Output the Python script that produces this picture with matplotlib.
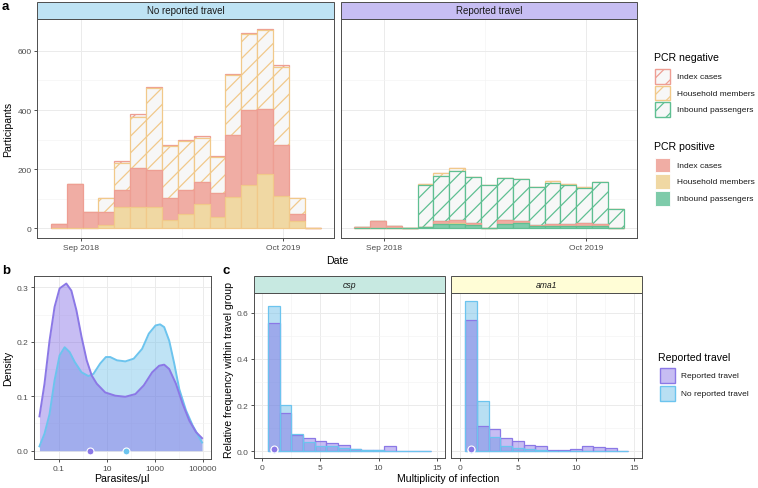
import numpy as np
import pandas as pd
import matplotlib
matplotlib.use('Agg')
import matplotlib.pyplot as plt
import matplotlib.dates as mdates
from matplotlib.patches import Rectangle
from matplotlib.ticker import FixedLocator, NullFormatter

plt.rcParams['font.family'] = ['Liberation Sans', 'DejaVu Sans']
plt.rcParams['hatch.linewidth'] = 0.9

W, H = 758, 489

# ---------------- panel a: participants per 31-day bin ----------------
bin_start = pd.date_range('2018-07-04', periods=17, freq='31D')

# no reported travel
nt_hh_pos = [0, 0, 0, 11, 73, 73, 73, 29, 48, 82, 40, 107, 148, 185, 109, 25, 0]
nt_idx_pos = [13, 151, 56, 45, 57, 131, 125, 75, 82, 76, 81, 207, 252, 219, 174, 23, 0]
nt_hh_neg = [0, 0, 0, 45, 92, 172, 275, 173, 165, 149, 120, 206, 256, 268, 263, 56, 0]
nt_idx_neg = [0, 0, 0, 0, 6, 10, 6, 6, 2, 6, 2, 1, 3, 2, 5, 0, 0]

# reported travel
tr_inb_pos = [0, 0, 0, 0, 4, 13, 13, 11, 2, 13, 17, 7, 9, 9, 9, 9, 2]
tr_hh_pos = [0, 0, 0, 0, 0, 0, 6, 0, 0, 0, 0, 0, 0, 0, 0, 0, 0]
tr_idx_pos = [3, 25, 7, 2, 0, 12, 9, 7, 0, 14, 9, 4, 7, 6, 8, 7, 0]
tr_inb_neg = [0, 0, 0, 0, 142, 152, 165, 154, 144, 143, 141, 128, 138, 133, 120, 142, 65]
tr_hh_neg = [0, 0, 0, 0, 3, 11, 10, 3, 2, 0, 0, 2, 6, 2, 3, 0, 0]
tr_idx_neg = [0, 0, 0, 0, 0, 0, 0, 0, 0, 0, 0, 0, 0, 0, 0, 0, 0]

# ---------------- panel b: parasite density ----------------
log_par_tr = [-1.80, -1.59, -1.38, -1.17, -0.96, -0.68, -0.47, -0.26, -0.045, 0.17, 0.38,
              0.59, 0.94, 1.36, 1.78, 2.20, 2.55, 2.90, 3.19, 3.40, 3.61, 3.89, 4.17,
              4.45, 4.73, 4.98]
dens_tr = [0.063, 0.123, 0.202, 0.264, 0.298, 0.307, 0.294, 0.258, 0.209, 0.166, 0.138,
           0.123, 0.107, 0.101, 0.099, 0.104, 0.120, 0.144, 0.156, 0.158, 0.150, 0.123,
           0.086, 0.055, 0.034, 0.023]
log_par_nt = [-1.80, -1.59, -1.38, -1.17, -0.96, -0.75, -0.54, -0.33, -0.045, 0.24, 0.45,
              0.73, 0.97, 1.15, 1.43, 1.78, 2.13, 2.48, 2.76, 3.04, 3.23, 3.40, 3.61,
              3.82, 4.03, 4.31, 4.59, 4.98]
dens_nt = [0.008, 0.031, 0.067, 0.129, 0.175, 0.190, 0.181, 0.163, 0.144, 0.137, 0.141,
           0.160, 0.172, 0.172, 0.166, 0.164, 0.169, 0.187, 0.215, 0.230, 0.232, 0.227,
           0.202, 0.160, 0.113, 0.074, 0.046, 0.015]
median_par = {'tr': 2.1, 'nt': 62}

# ---------------- panel c: multiplicity of infection ----------------
moi = [1, 2, 3, 4, 5, 6, 7, 8, 9, 10, 11, 12, 13, 14]
csp_tr = [0.555, 0.166, 0.072, 0.056, 0.046, 0.035, 0.029, 0.012, 0.006, 0.006, 0.022, 0, 0, 0]
csp_nt = [0.631, 0.199, 0.075, 0.042, 0.022, 0.025, 0.014, 0.009, 0.005, 0.005, 0.003, 0.002, 0.002, 0.002]
ama_tr = [0.568, 0.111, 0.095, 0.056, 0.043, 0.027, 0.022, 0.006, 0.006, 0.010, 0.022, 0.017, 0.013, 0]
ama_nt = [0.649, 0.219, 0.060, 0.025, 0.014, 0.010, 0.006, 0.003, 0.003, 0.003, 0.003, 0.002, 0.002, 0.002]
median_moi = 1

# colours
fill = {'idx': '#F0ADA4', 'hh': '#F0D8A3', 'inb': '#7ECBAA'}
edge = {'idx': '#EE9E93', 'hh': '#F1C98A', 'inb': '#5FBF92'}
hatch_bg = '#F7F7F7'
pur, pur_e = '#755CE1', '#8B78E6'
blu, blu_e = '#73C1E9', '#6CC4EE'

fig = plt.figure(figsize=(W / 100, H / 100), dpi=100)


def px_axes(x0, y0, x1, y1):
    return fig.add_axes([x0 / W, 1 - y1 / H, (x1 - x0) / W, (y1 - y0) / H])


def style(ax):
    for s in ax.spines.values():
        s.set_color('#4d4d4d')
        s.set_linewidth(0.7)
    ax.grid(True, which='major', color='#EBEBEB', lw=0.7)
    ax.grid(True, which='minor', color='#F3F3F3', lw=0.45)
    ax.set_axisbelow(True)
    ax.tick_params(which='major', length=2.5, width=0.6, color='#333333',
                   labelsize=6, labelcolor='#4D4D4D', pad=1.5)
    ax.tick_params(which='minor', length=0)


x_bins = mdates.date2num(bin_start.to_pydatetime())
sep18 = mdates.date2num(pd.Timestamp('2018-09-01').to_pydatetime())
oct19 = mdates.date2num(pd.Timestamp('2019-10-01').to_pydatetime())


def stacked(ax, layers):
    # layers bottom -> top; ggplot draws the top of the stack first
    base = np.zeros(len(x_bins))
    bottoms = []
    for counts, kind, neg in layers:
        bottoms.append(base.copy())
        base = base + np.array(counts)
    for (counts, kind, neg), b in reversed(list(zip(layers, bottoms))):
        if neg:
            ax.bar(x_bins, counts, bottom=b, width=31, align='edge', facecolor=hatch_bg,
                   edgecolor=edge[kind], hatch='//', lw=0.9)
        else:
            ax.bar(x_bins, counts, bottom=b, width=31, align='edge', facecolor=fill[kind],
                   edgecolor=edge[kind], lw=0.9)
    ax.set_xlim(sep18 - 85.4, sep18 + 494.4)
    ax.set_ylim(-33.7, 707.7)
    ax.set_xticks([sep18, oct19])
    ax.set_xticklabels(['Sep 2018', 'Oct 2019'])
    ax.xaxis.set_minor_locator(FixedLocator([(sep18 + oct19) / 2]))
    ax.set_yticks([0, 200, 400, 600])
    ax.yaxis.set_minor_locator(FixedLocator([100, 300, 500]))
    style(ax)


axL = px_axes(37.3, 20, 334.3, 239.3)
stacked(axL, [(nt_hh_pos, 'hh', False), (nt_idx_pos, 'idx', False),
              (nt_hh_neg, 'hh', True), (nt_idx_neg, 'idx', True)])
axR = px_axes(340.7, 20, 637.3, 239.3)
stacked(axR, [(tr_inb_pos, 'inb', False), (tr_hh_pos, 'hh', False), (tr_idx_pos, 'idx', False),
              (tr_inb_neg, 'inb', True), (tr_hh_neg, 'hh', True), (tr_idx_neg, 'idx', True)])
axR.tick_params(axis='y', which='both', length=0, labelleft=False)

# panel b
axB = px_axes(33.7, 277.3, 210.7, 460)
xs_nt = 10 ** np.array(log_par_nt)
xs_tr = 10 ** np.array(log_par_tr)
axB.fill_between(xs_nt, dens_nt, color=blu, alpha=0.45, lw=0)
axB.plot(xs_nt, dens_nt, color=blu_e, lw=1.4)
axB.fill_between(xs_tr, dens_tr, color=pur, alpha=0.4, lw=0)
axB.plot(xs_tr, dens_tr, color=pur_e, lw=1.4)
axB.plot([median_par['tr']], [0], 'o', ms=5, mfc=pur_e, mec='white', mew=0.8)
axB.plot([median_par['nt']], [0], 'o', ms=5, mfc=blu_e, mec='white', mew=0.8)
axB.set_xscale('log')
axB.set_xlim(10 ** -2.04, 10 ** 5.34)
axB.set_ylim(-0.0153, 0.3203)
axB.xaxis.set_major_locator(FixedLocator([0.1, 10, 1000, 100000]))
axB.set_xticklabels(['0.1', '10', '1000', '100000'])
axB.xaxis.set_minor_locator(FixedLocator([1, 100, 10000]))
axB.xaxis.set_minor_formatter(NullFormatter())
axB.set_yticks([0, 0.1, 0.2, 0.3])
axB.set_yticklabels(['0.0', '0.1', '0.2', '0.3'])
axB.yaxis.set_minor_locator(FixedLocator([0.05, 0.15, 0.25]))
style(axB)


def moi_panel(ax, tr, nt):
    ax.bar(moi, nt, width=1, color=blu, alpha=0.5, lw=0)
    ax.bar(moi, tr, width=1, color=pur, alpha=0.4, lw=0)
    ax.bar(moi, tr, width=1, facecolor='none', edgecolor=pur_e, lw=0.9)
    ax.bar(moi, nt, width=1, facecolor='none', edgecolor=blu_e, lw=0.9)
    ax.plot([median_moi], [0.004], 'o', ms=5, mfc=blu_e, mec='white', mew=0.8)
    ax.plot([median_moi], [0.010], 'o', ms=5, mfc=pur_e, mec='white', mew=0.8)
    ax.set_xlim(-0.72, 15.72)
    ax.set_ylim(-0.0303, 0.684)
    ax.set_xticks([0, 5, 10, 15])
    ax.xaxis.set_minor_locator(FixedLocator([2.5, 7.5, 12.5]))
    ax.set_yticks([0, 0.2, 0.4, 0.6])
    ax.set_yticklabels(['0.0', '0.2', '0.4', '0.6'])
    ax.yaxis.set_minor_locator(FixedLocator([0.1, 0.3, 0.5]))
    style(ax)


axC1 = px_axes(254, 294.3, 445, 459.3)
moi_panel(axC1, csp_tr, csp_nt)
axC2 = px_axes(451.3, 294.3, 642.3, 459.3)
moi_panel(axC2, ama_tr, ama_nt)
axC2.tick_params(axis='y', which='both', length=0, labelleft=False)

# overlay in pixel coordinates for strips, titles and legends
ov = fig.add_axes([0, 0, 1, 1], zorder=10)
ov.set_xlim(0, W)
ov.set_ylim(H, 0)
ov.axis('off')


def strip(x0, x1, y0, y1, colour, label, size, italic=False):
    ov.add_patch(Rectangle((x0, y0), x1 - x0, y1 - y0, facecolor=colour,
                           edgecolor='#4d4d4d', lw=0.7))
    ov.text((x0 + x1) / 2, (y0 + y1) / 2, label, ha='center', va='center', fontsize=size,
            color='#1A1A1A', style='italic' if italic else 'normal')


strip(37.3, 334.3, 2.7, 20, '#BEE3F4', 'No reported travel', 7)
strip(340.7, 637.3, 2.7, 20, '#C7BEF3', 'Reported travel', 7)
strip(254, 445, 277.3, 294.3, '#C7E9E1', 'csp', 6.2, True)
strip(451.3, 642.3, 277.3, 294.3, '#FFFDD6', 'ama1', 6.2, True)

tkw = dict(fontsize=7.6, color='black', ha='center', va='center')
ov.text(5, 7.5, 'a', fontsize=9.5, fontweight='bold', ha='center', va='center')
ov.text(6.5, 271.5, 'b', fontsize=9.5, fontweight='bold', ha='center', va='center')
ov.text(226.5, 271.5, 'c', fontsize=9.5, fontweight='bold', ha='center', va='center')
ov.text(8.5, 129.7, 'Participants', rotation=90, **tkw)
ov.text(337, 260.7, 'Date', **tkw)
ov.text(8.5, 368.7, 'Density', rotation=90, **tkw)
ov.text(122.2, 479.5, 'Parasites/µl', **tkw)
ov.text(228.5, 370, 'Relative frequency within travel group', rotation=90, **tkw)
ov.text(448, 479.5, 'Multiplicity of infection', **tkw)

# legend panel a
leg_labels = ['Index cases', 'Household members', 'Inbound passengers']
leg_kinds = ['idx', 'hh', 'inb']
ov.text(654.3, 58.3, 'PCR negative', fontsize=7.6, ha='left', va='center')
for i, (lab, k) in enumerate(zip(leg_labels, leg_kinds)):
    yc = 77.3 + i * 16.7
    ov.add_patch(Rectangle((655, yc - 7.3), 14.6, 14.6, facecolor=hatch_bg,
                           edgecolor=edge[k], hatch='//', lw=1.0))
    ov.text(676.7, yc, lab, fontsize=6, color='#1A1A1A', ha='left', va='center')
ov.text(654.3, 146.7, 'PCR positive', fontsize=7.6, ha='left', va='center')
for i, (lab, k) in enumerate(zip(leg_labels, leg_kinds)):
    yc = 166 + i * 16.7
    ov.add_patch(Rectangle((655, yc - 7.3), 14.6, 14.6, facecolor=fill[k],
                           edgecolor='white', lw=0.6))
    ov.text(676.7, yc, lab, fontsize=6, color='#1A1A1A', ha='left', va='center')

# legend panel c
ov.text(658.3, 357.7, 'Reported travel', fontsize=7.6, ha='left', va='center')
for i, (lab, c, ce, a) in enumerate([('Reported travel', pur, pur_e, 0.4),
                                       ('No reported travel', blu, blu_e, 0.5)]):
    yc = 376.7 + i * 17.3
    ov.add_patch(Rectangle((659.5, yc - 7.5), 15, 15, facecolor=c, alpha=a, lw=0))
    ov.add_patch(Rectangle((659.5, yc - 7.5), 15, 15, facecolor='none', edgecolor=ce, lw=1.0))
    ov.text(681, yc, lab, fontsize=6, color='#1A1A1A', ha='left', va='center')

fig.savefig('out.png', dpi=100)
